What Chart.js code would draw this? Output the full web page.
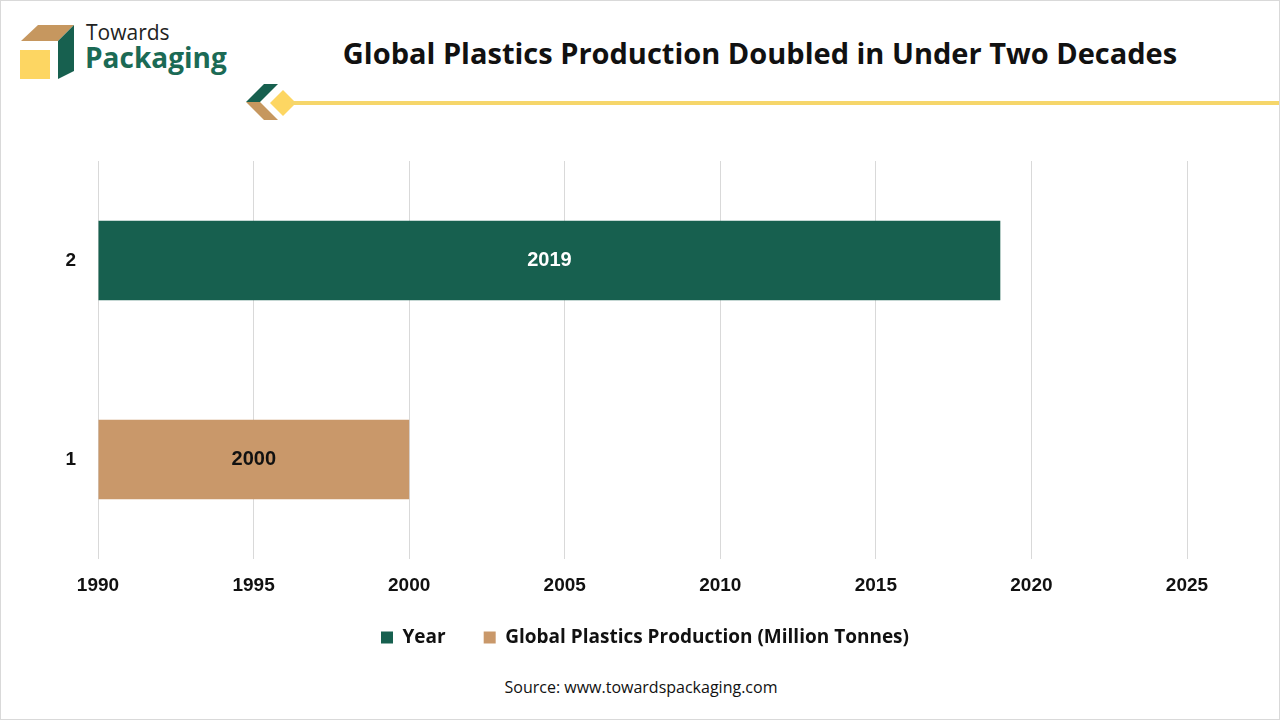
<!DOCTYPE html>
<html><head><meta charset="utf-8">
<script src="https://cdn.jsdelivr.net/npm/chart.js@4"></script>
<style>
html,body{margin:0;padding:0;background:#fff;}
#wrap{position:relative;width:1280px;height:720px;overflow:hidden;box-sizing:border-box;border:1px solid #d9d9d9;}
#c{position:absolute;left:0;top:0;}
.abs{position:absolute;white-space:nowrap;}
</style></head><body>
<div id="wrap">
<svg class="abs" style="left:0;top:0" width="1280" height="130">
  <polygon points="20,40 37,24 73,24 57,40" fill="#C6975F"/>
  <polygon points="57,40 73,24 73,70 57,78" fill="#17604F"/>
  <rect x="19" y="49" width="30" height="29" fill="#FDD662"/>
  <polygon points="245,101 263,83 277,83 259,101" fill="#17604F"/>
  <polygon points="245,101 259,101 277,119 263,119" fill="#C6975F"/>
  <polygon points="282,89 295,102 282,115 269,102" fill="#FDD662"/>
  <rect x="290" y="100" width="990" height="4" fill="#F6D66A"/>
</svg>
<div class="abs" style="left:85px;top:17px;font:400 21px 'Open Sans',sans-serif;color:#222;">Towards</div>
<div class="abs" style="left:84px;top:37px;font:700 28px 'Open Sans',sans-serif;color:#1B6A55;">Packaging</div>
<div class="abs" style="left:0;width:1518px;top:32px;text-align:center;font:700 29px 'Open Sans',sans-serif;color:#111;">Global Plastics Production Doubled in Under Two Decades</div>
<div class="abs" style="left:0;width:1280px;top:675px;text-align:center;font:400 16px 'Open Sans',sans-serif;color:#111;">Source: www.towardspackaging.com</div>
<canvas id="c" width="1280" height="720"></canvas>
</div>
<script>
const categories = ['2', '1'];
const seriesNames = ['Year', 'Global Plastics Production (Million Tonnes)'];
const yearValues = [2019, null];
const plasticsValues = [null, 2000];
const xTicks = [1990, 1995, 2000, 2005, 2010, 2015, 2020, 2025];

const labelPlugin = {
  id: 'barLabels',
  afterLayout(chart) {
    // nudge legend closer to the axis and to the right, as in the original
    if (chart.legend) {
      chart.legend.top -= 19; chart.legend.bottom -= 19;
      chart.legend.left += 31; chart.legend.right += 31;
    }
  },
  afterDatasetsDraw(chart) {
    const ctx = chart.ctx;
    ctx.save();
    ctx.font = 'bold 20px "Liberation Sans", Arial, sans-serif';
    ctx.textAlign = 'center';
    ctx.textBaseline = 'middle';
    chart.data.datasets.forEach((ds, di) => {
      chart.getDatasetMeta(di).data.forEach((bar, i) => {
        const v = ds.data[i];
        if (v == null) return;
        ctx.fillStyle = di === 0 ? '#ffffff' : '#111111';
        ctx.fillText(String(v), (bar.x + bar.base) / 2, bar.y);
      });
    });
    ctx.restore();
  }
};

new Chart(document.getElementById('c'), {
  type: 'bar',
  data: {
    labels: categories,
    datasets: [
      { label: seriesNames[0], data: yearValues, backgroundColor: '#17604F', base: 1990, grouped: false,
        categoryPercentage: 1, barPercentage: 0.4 },
      { label: seriesNames[1], data: plasticsValues, backgroundColor: '#C9986A', base: 1990, grouped: false,
        categoryPercentage: 1, barPercentage: 0.4 }
    ]
  },
  options: {
    indexAxis: 'y',
    responsive: false,
    animation: false,
    devicePixelRatio: 1,
    layout: { padding: { top: 160, left: 40, right: 94, bottom: 45 } },
    plugins: {
      legend: {
        position: 'bottom',
        labels: {
          font: { family: '"Open Sans", sans-serif', size: 19, weight: 'bold' },
          color: '#111',
          boxWidth: 12, boxHeight: 12, padding: 38
        }
      },
      tooltip: { enabled: false }
    },
    scales: {
      x: {
        min: 1990, max: 2025,
        afterBuildTicks(s) { s.ticks = xTicks.map(v => ({ value: v })); },
        afterFit(s) { s.height = 50; },
        grid: { color: '#d9d9d9', drawTicks: false },
        border: { display: false },
        ticks: { padding: 15, color: '#111', callback: v => String(v),
                 font: { family: '"Liberation Sans", Arial, sans-serif', size: 19, weight: 'bold' } }
      },
      y: {
        afterFit(s) { s.width = 57; },
        grid: { display: false },
        border: { display: false },
        ticks: { padding: 14, color: '#111', font: { family: '"Liberation Sans", Arial, sans-serif', size: 19, weight: 'bold' } }
      }
    }
  },
  plugins: [labelPlugin]
});
</script>
</body></html>
